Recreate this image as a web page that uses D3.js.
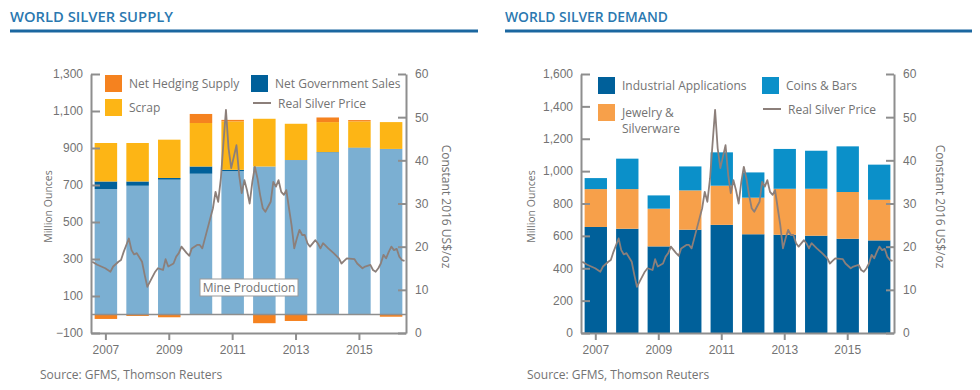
<!DOCTYPE html>
<html>
<head>
<meta charset="utf-8">
<script src="https://cdn.jsdelivr.net/npm/d3@7.9.0/dist/d3.min.js"></script>
<style>
  body { margin: 0; background: #fff; }
  svg { display: block; font-family: "Open Sans", sans-serif; }
</style>
</head>
<body>
<svg id="chart" width="980" height="390"></svg>
<script>
// --- data (million ounces) ---
const years = [2007, 2008, 2009, 2010, 2011, 2012, 2013, 2014, 2015, 2016];

const mineProduction = [678, 696, 729, 761, 775, 800, 835, 876, 900, 894];
const netGovSales    = [41, 23, 9, 39, 7, 0, 0, 2, 2, 1];
const scrap          = [208, 208, 207, 235, 262, 258, 196, 162, 142, 145];
const netHedging     = [-24, -8, -15, 49, 8, -47, -35, 25, 7, -12];

const industrial = [655, 644, 535, 638, 668, 610, 607, 601, 582, 572];
const jewelry    = [234, 245, 233, 243, 242, 226, 284, 290, 289, 251];
const coinsBars  = [68, 188, 82, 148, 206, 156, 246, 235, 282, 217];

const supplyTicks = [-100, 100, 300, 500, 700, 900, 1100, 1300];
const demandTicks = [0, 200, 400, 600, 800, 1000, 1200, 1400, 1600];
const priceTicks  = [0, 10, 20, 30, 40, 50, 60];
const yearTicks   = [2007, 2009, 2011, 2013, 2015];

// real silver price, constant 2016 US$/oz (monthly, as read)
const silverPrice = [
  ['2007-01', 16.5], ['2007-03', 15.8], ['2007-06', 15.0], ['2007-08', 14.2], ['2007-09', 15.4],
  ['2007-11', 16.5], ['2007-12', 16.9], ['2008-01', 18.8], ['2008-03', 21.9], ['2008-04', 19.2],
  ['2008-05', 18.2], ['2008-06', 18.5], ['2008-08', 16.5], ['2008-09', 13.4], ['2008-10', 10.7],
  ['2008-11', 11.9], ['2009-01', 14.2], ['2009-02', 15.0], ['2009-04', 14.6], ['2009-05', 17.1],
  ['2009-06', 15.4], ['2009-08', 16.1], ['2009-09', 17.7], ['2009-10', 18.5], ['2009-11', 20.0],
  ['2010-01', 18.5], ['2010-02', 17.9], ['2010-03', 19.6], ['2010-05', 20.4], ['2010-06', 20.4],
  ['2010-07', 19.6], ['2010-09', 24.3], ['2010-11', 28.9], ['2010-12', 32.7], ['2011-01', 30.4],
  ['2011-02', 35.8], ['2011-03', 43.5], ['2011-04', 51.7], ['2011-05', 42.8], ['2011-06', 38.2],
  ['2011-07', 40.8], ['2011-08', 43.5], ['2011-09', 36.6], ['2011-10', 32.4], ['2011-11', 35.4],
  ['2011-12', 33.1], ['2012-01', 30.0], ['2012-02', 35.0], ['2012-03', 38.5], ['2012-04', 35.8],
  ['2012-05', 32.0], ['2012-06', 28.9], ['2012-07', 28.1], ['2012-09', 30.4], ['2012-10', 35.0],
  ['2012-11', 33.9], ['2012-12', 35.4], ['2013-01', 32.7], ['2013-02', 32.0], ['2013-03', 33.1],
  ['2013-04', 28.9], ['2013-05', 25.0], ['2013-06', 19.6], ['2013-07', 21.9], ['2013-08', 23.9],
  ['2013-09', 22.7], ['2013-10', 22.7], ['2013-11', 20.8], ['2013-12', 20.0], ['2014-02', 21.5],
  ['2014-03', 20.8], ['2014-04', 19.6], ['2014-05', 20.8], ['2014-07', 19.6], ['2014-09', 18.5],
  ['2014-11', 17.3], ['2014-12', 16.1], ['2015-01', 16.7], ['2015-02', 17.3], ['2015-05', 17.1],
  ['2015-06', 16.1], ['2015-08', 15.0], ['2015-09', 15.4], ['2015-11', 15.8], ['2015-12', 14.6],
  ['2016-01', 14.2], ['2016-02', 15.0], ['2016-03', 16.1], ['2016-04', 18.1], ['2016-05', 17.3],
  ['2016-06', 18.8], ['2016-07', 20.0], ['2016-08', 19.2], ['2016-09', 19.5], ['2016-10', 17.7],
  ['2016-11', 16.9], ['2016-12', 16.7]
];

// --- colours ---
const C = {
  title: '#2a78b0', rule: '#1b67a0', axis: '#8e8e8e', text: '#737373',
  mine: '#7bafd2', gov: '#00609a', scrap: '#fdb515', hedge: '#f5821f',
  industrial: '#00609a', jewelry: '#f7a04a', coins: '#0b90c9', price: '#8c7f7a'
};

const svg = d3.select('#chart');
const parseMonth = d3.timeParse('%Y-%m');
const priceRows = silverPrice.map(([m, v]) => {
  const d = parseMonth(m);
  return { date: new Date(d.getFullYear(), d.getMonth(), 15), value: v };
});

function styleAxis(g) {
  g.select('.domain').attr('stroke', C.axis).attr('stroke-width', 2);
  g.selectAll('.tick line').attr('stroke', C.axis).attr('stroke-width', 2);
  g.selectAll('.tick text').attr('fill', C.text).attr('font-size', 12);
}

// one chart panel; left/right are the inner plot edges
function drawPanel(cfg) {
  const { left, right, top, bottom } = cfg;
  const g = svg.append('g');

  // header
  g.append('text')
    .attr('x', cfg.titleX).attr('y', 22)
    .attr('font-size', 14).attr('font-weight', 600).attr('fill', C.title)
    .attr('textLength', 163).attr('lengthAdjust', 'spacingAndGlyphs')
    .text(cfg.title);
  g.append('line')
    .attr('x1', cfg.titleX).attr('x2', cfg.ruleEnd).attr('y1', 31).attr('y2', 31)
    .attr('stroke', C.rule).attr('stroke-width', 3);

  const x = d3.scaleBand().domain(years).range([left, right])
    .paddingInner(0.29).paddingOuter(0.115);
  const t = d3.scaleTime()
    .domain([new Date(2007, 0, 1), new Date(2017, 0, 1)]).range([left, right]);
  const y = d3.scaleLinear().domain(cfg.yDomain).range([bottom, top]);
  const yp = d3.scaleLinear().domain([0, 60]).range([bottom, top]);

  const rows = years.map((yr, i) => {
    const r = { year: yr };
    cfg.series.forEach(s => { r[s.key] = s.values[i]; });
    return r;
  });
  const stacked = d3.stack()
    .keys(cfg.series.map(s => s.key))
    .offset(d3.stackOffsetDiverging)(rows);

  g.append('g').selectAll('g')
    .data(stacked)
    .join('g')
      .attr('fill', d => cfg.series.find(s => s.key === d.key).color)
    .selectAll('rect')
    .data(d => d)
    .join('rect')
      .attr('x', d => x(d.data.year))
      .attr('width', x.bandwidth())
      .attr('y', d => y(Math.max(d[0], d[1])))
      .attr('height', d => Math.abs(y(d[0]) - y(d[1])));

  if (cfg.yDomain[0] < 0) {
    g.append('line')
      .attr('x1', left).attr('x2', right).attr('y1', y(0)).attr('y2', y(0))
      .attr('stroke', C.axis).attr('stroke-width', 1.5);
  }

  // axes
  g.append('g').attr('transform', `translate(${left},0)`)
    .call(d3.axisLeft(y).tickValues(cfg.yTicks).tickFormat(d3.format(','))
      .tickSizeInner(-9).tickSizeOuter(0).tickPadding(8))
    .call(styleAxis);
  g.append('g').attr('transform', `translate(${right},0)`)
    .call(d3.axisRight(yp).tickValues(priceTicks)
      .tickSizeInner(-8).tickSizeOuter(0).tickPadding(9))
    .call(styleAxis);
  g.append('g').attr('transform', `translate(0,${bottom})`)
    .call(d3.axisBottom(x).tickValues(yearTicks).tickSizeInner(7).tickSizeOuter(0).tickPadding(5))
    .call(styleAxis);

  // price line
  g.append('path')
    .datum(priceRows)
    .attr('fill', 'none')
    .attr('stroke', C.price)
    .attr('stroke-width', 1.8)
    .attr('stroke-linejoin', 'round')
    .attr('d', d3.line().x(d => t(d.date)).y(d => yp(d.value)));

  // axis titles
  g.append('text')
    .attr('transform', `translate(${cfg.yTitleX},${(top + bottom) / 2 + 3}) rotate(-90)`)
    .attr('text-anchor', 'middle').attr('font-size', 10.5).attr('fill', C.text)
    .text('Million Ounces');
  g.append('text')
    .attr('transform', `translate(${cfg.pTitleX},${(top + bottom) / 2 + 3}) rotate(90)`)
    .attr('text-anchor', 'middle').attr('font-size', 12).attr('fill', C.text)
    .text('Constant 2016 US$/oz');

  // legend
  const lg = g.append('g');
  cfg.legend.forEach(item => {
    const it = lg.append('g').attr('transform', `translate(${item.x},${item.y})`);
    if (item.line) {
      it.append('line').attr('x1', 0).attr('x2', 18).attr('y1', 8).attr('y2', 8)
        .attr('stroke', C.price).attr('stroke-width', 2);
    } else {
      it.append('rect').attr('width', 17).attr('height', 17).attr('fill', item.color);
    }
    const tx = it.append('text').attr('y', 12.5)
      .attr('font-size', 12).attr('fill', C.text);
    item.label.forEach((ln, k) => {
      tx.append('tspan').attr('x', item.line ? 25 : 24).attr('dy', k ? 16.5 : 0).text(ln);
    });
  });

  // source
  g.append('text')
    .attr('x', cfg.sourceX).attr('y', 379)
    .attr('font-size', 12).attr('fill', C.text)
    .text('Source: GFMS, Thomson Reuters');

  return { g, x, y };
}

const supply = drawPanel({
  title: 'WORLD SILVER SUPPLY', titleX: 10, ruleEnd: 478,
  left: 91, right: 406, top: 74, bottom: 333,
  yDomain: [-100, 1300], yTicks: supplyTicks,
  yTitleX: 52, pTitleX: 442, sourceX: 40,
  series: [
    { key: 'mine', values: mineProduction, color: C.mine },
    { key: 'gov', values: netGovSales, color: C.gov },
    { key: 'scrap', values: scrap, color: C.scrap },
    { key: 'hedge', values: netHedging, color: C.hedge }
  ],
  legend: [
    { x: 105, y: 75, color: C.hedge, label: ['Net  Hedging Supply'] },
    { x: 105, y: 99, color: C.scrap, label: ['Scrap'] },
    { x: 251, y: 75, color: C.gov, label: ['Net Government Sales'] },
    { x: 253, y: 95, line: true, label: ['Real Silver Price'] }
  ]
});

// in-chart label for the base series
const mp = supply.g.append('g').attr('transform', 'translate(200,279)');
mp.append('rect').attr('width', 98).attr('height', 17)
  .attr('fill', '#fff').attr('stroke', '#9a9a9a').attr('stroke-width', 1);
mp.append('text').attr('x', 49).attr('y', 13).attr('text-anchor', 'middle')
  .attr('font-size', 12).attr('fill', C.text).text('Mine Production');

drawPanel({
  title: 'WORLD SILVER DEMAND', titleX: 505, ruleEnd: 972,
  left: 581, right: 894, top: 74, bottom: 333,
  yDomain: [0, 1600], yTicks: demandTicks,
  yTitleX: 535, pTitleX: 936, sourceX: 527,
  series: [
    { key: 'industrial', values: industrial, color: C.industrial },
    { key: 'jewelry', values: jewelry, color: C.jewelry },
    { key: 'coins', values: coinsBars, color: C.coins }
  ],
  legend: [
    { x: 598, y: 77, color: C.industrial, label: ['Industrial Applications'] },
    { x: 598, y: 104, color: C.jewelry, label: ['Jewelry &', 'Silverware'] },
    { x: 762, y: 77, color: C.coins, label: ['Coins & Bars'] },
    { x: 763, y: 101, line: true, label: ['Real Silver Price'] }
  ]
});
</script>
</body>
</html>
